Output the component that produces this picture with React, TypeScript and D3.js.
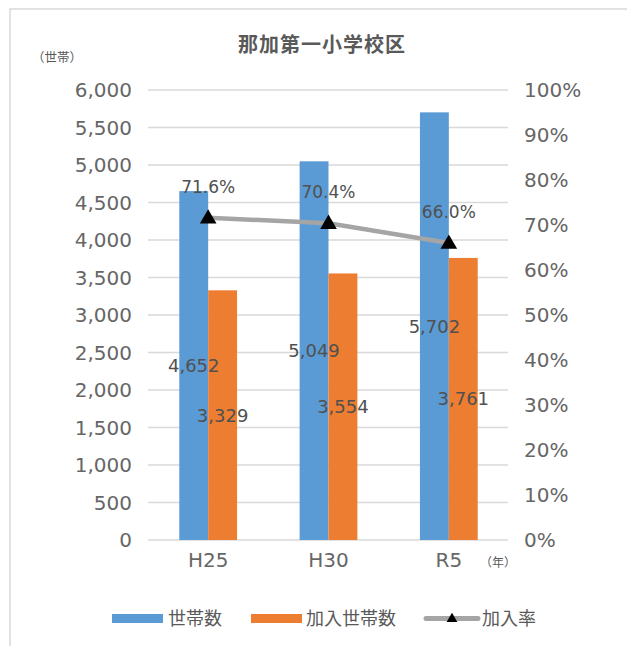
import React from "react";
import * as d3 from "d3";

const categories = ["H25", "H30", "R5"];
const households = [4652, 5049, 5702];
const joined = [3329, 3554, 3761];
const joinRate = [0.716, 0.704, 0.66];
const leftTicks = [0, 500, 1000, 1500, 2000, 2500, 3000, 3500, 4000, 4500, 5000, 5500, 6000];
const rightTicks = [0, 0.1, 0.2, 0.3, 0.4, 0.5, 0.6, 0.7, 0.8, 0.9, 1.0];
const legendLabels = ["世帯数", "加入世帯数", "加入率"];

const W = 627;
const H = 646;
const LATIN = "'DejaVu Sans', sans-serif";
const CJK = "'Noto Sans CJK JP', sans-serif";
const BLUE = "#5b9bd5";
const ORANGE = "#ed7d31";
const GREY = "#a5a5a5";
const TXT = "#595959";
const TICK = "#666666";

export default function App() {
  const x = d3.scaleBand<string>().domain(categories).range([148, 509]).padding(0);
  const yL = d3.scaleLinear().domain([0, 6000]).range([540, 90]);
  const yR = d3.scaleLinear().domain([0, 1]).range([540, 90]);
  const bw = x.bandwidth() * 0.24;
  const cx = (c: string) => (x(c) as number) + x.bandwidth() / 2;
  const fmt = d3.format(",");
  const pct = d3.format(".1%");
  const pct0 = d3.format(".0%");
  const line = d3
    .line<number>()
    .x((_, i) => cx(categories[i]))
    .y((d) => yR(d));
  const tri = (s: number) => d3.symbol().type(d3.symbolTriangle).size(s)() as string;

  return (
    <svg
      width={W}
      height={H}
      style={{ position: "absolute", left: 0, top: 0, background: "#fff" }}
    >
      <rect x={10} y={9} width={640} height={660} fill="#fff" stroke="#d9d9d9" strokeWidth={1.5} />
      <text x={322} y={52} textAnchor="middle" fontFamily={CJK} fontWeight="bold" fontSize={20} fill={TXT} letterSpacing={1}>
        那加第一小学校区
      </text>
      <text x={32} y={62} fontFamily={CJK} fontSize={12.5} fill={TXT}>
        （世帯）
      </text>
      {leftTicks.map((t) => (
        <g key={"g" + t}>
          <line x1={148} x2={508} y1={yL(t)} y2={yL(t)} stroke="#d9d9d9" strokeWidth={1.5} />
          <text x={132} y={yL(t)} dy="0.36em" textAnchor="end" fontFamily={LATIN} fontSize={20} fill={TICK}>
            {fmt(t)}
          </text>
        </g>
      ))}
      {rightTicks.map((t) => (
        <text key={"r" + t} x={524} y={yR(t)} dy="0.36em" fontFamily={LATIN} fontSize={20} fill={TICK}>
          {pct0(t)}
        </text>
      ))}
      {categories.map((c, i) => (
        <g key={c}>
          <rect x={cx(c) - bw} y={yL(households[i])} width={bw} height={540 - yL(households[i])} fill={BLUE} />
          <rect x={cx(c)} y={yL(joined[i])} width={bw} height={540 - yL(joined[i])} fill={ORANGE} />
          <text x={cx(c)} y={560} dy="0.36em" textAnchor="middle" fontFamily={LATIN} fontSize={20} fill={TICK}>
            {c}
          </text>
        </g>
      ))}
      {categories.map((c, i) => (
        <g key={"lb" + c}>
          <text x={cx(c) - bw / 2} y={(yL(households[i]) + 540) / 2} dy="0.36em" textAnchor="middle" fontFamily={LATIN} fontSize={18} fill="#505050">
            {fmt(households[i])}
          </text>
          <text x={cx(c) + bw / 2} y={(yL(joined[i]) + 540) / 2} dy="0.36em" textAnchor="middle" fontFamily={LATIN} fontSize={18} fill="#505050">
            {fmt(joined[i])}
          </text>
        </g>
      ))}
      <path d={line(joinRate) as string} fill="none" stroke={GREY} strokeWidth={4.5} />
      {categories.map((c, i) => (
        <g key={"pt" + c}>
          <path d={tri(120)} transform={`translate(${cx(c)},${yR(joinRate[i]) + 1})`} fill="#000" />
          <text x={cx(c)} y={yR(joinRate[i]) - 31} dy="0.36em" textAnchor="middle" fontFamily={LATIN} fontSize={17} fill="#505050">
            {pct(joinRate[i])}
          </text>
        </g>
      ))}
      <text x={480} y={563} dy="0.36em" fontFamily={CJK} fontSize={12} fill={TXT}>
        （年）
      </text>
      {/* legend */}
      <rect x={112} y={614} width={51} height={9} fill={BLUE} />
      <text x={168} y={619} dy="0.36em" fontFamily={CJK} fontSize={18} fill={TXT}>
        {legendLabels[0]}
      </text>
      <rect x={251} y={614} width={51} height={9} fill={ORANGE} />
      <text x={306} y={619} dy="0.36em" fontFamily={CJK} fontSize={18} fill={TXT}>
        {legendLabels[1]}
      </text>
      <line x1={426} x2={478} y1={618.5} y2={618.5} stroke={GREY} strokeWidth={5} strokeLinecap="round" />
      <path d={tri(50)} transform="translate(452,619)" fill="#000" />
      <text x={482} y={619} dy="0.36em" fontFamily={CJK} fontSize={18} fill={TXT}>
        {legendLabels[2]}
      </text>
    </svg>
  );
}
